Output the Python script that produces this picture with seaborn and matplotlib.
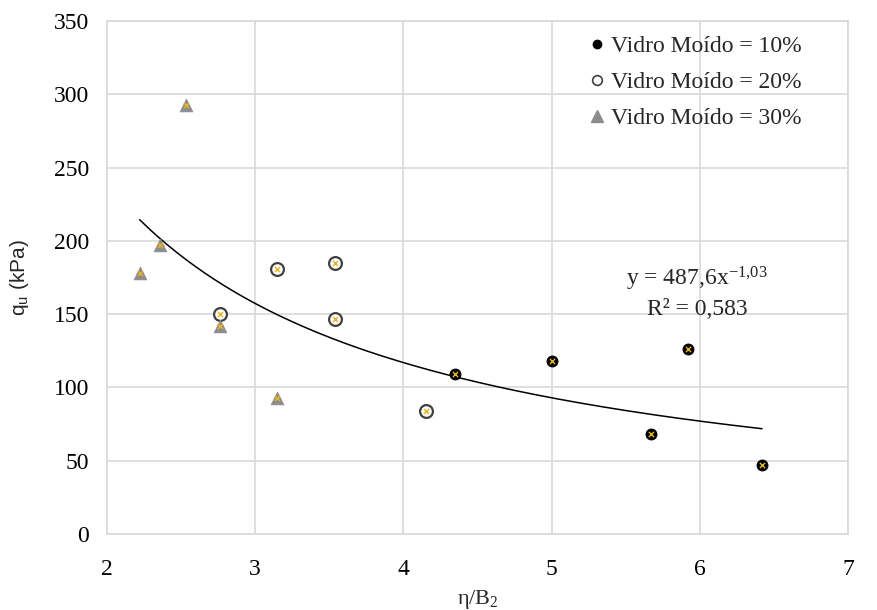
import numpy as np
import pandas as pd
import matplotlib
matplotlib.use("Agg")
import matplotlib.pyplot as plt
import seaborn as sns
from matplotlib.lines import Line2D

# data
x10 = [4.35, 5.00, 5.67, 5.92, 6.42]
y10 = [109, 118, 68, 126, 47]
x20 = [2.76, 3.15, 3.54, 3.54, 4.15]
y20 = [150, 181, 185, 147, 84]
x30 = [2.53, 2.22, 2.36, 2.76, 3.15]
y30 = [293, 178, 197, 142, 93]
labels = ["Vidro Moído = 10%", "Vidro Moído = 20%", "Vidro Moído = 30%"]
fit_a = 487.6
fit_b = -1.03
fit_r2 = "0,583"
fit_range = (2.22, 6.42)
xticks = [2, 3, 4, 5, 6, 7]
yticks = [0, 50, 100, 150, 200, 250, 300, 350]

df = pd.DataFrame({
    "x": x10 + x20 + x30,
    "y": y10 + y20 + y30,
    "g": [labels[0]] * len(x10) + [labels[1]] * len(x20) + [labels[2]] * len(x30),
})

sns.set_theme(style="white")
plt.rcParams["font.family"] = ["Liberation Serif", "DejaVu Serif"]
plt.rcParams["mathtext.fontset"] = "custom"
plt.rcParams["mathtext.rm"] = "Liberation Serif"
plt.rcParams["mathtext.it"] = "Liberation Serif:italic"
plt.rcParams["mathtext.bf"] = "Liberation Serif:bold"

fig = plt.figure(figsize=(8.78, 6.1), dpi=100)
ax = fig.add_axes([0.1219, 0.1246, 0.8439, 0.841])

grid_c = "#d9d9d9"
styles = {
    labels[0]: dict(marker="o", s=60, color="black", edgecolor="black", linewidth=0.8),
    labels[1]: dict(marker="o", s=85, color="white", edgecolor="#404040", linewidth=1.6),
    labels[2]: dict(marker="^", s=85, color="#8c8c8c", edgecolor="#8c8c8c", linewidth=0.5),
}
for lab in labels:
    sub = df[df["g"] == lab]
    sns.scatterplot(data=sub, x="x", y="y", ax=ax, legend=False, zorder=3, **styles[lab])
# small yellow cross inside every marker
sns.scatterplot(data=df, x="x", y="y", ax=ax, legend=False, marker="x", s=14,
                color="#e8b420", linewidth=1.0, zorder=4)

# power trendline from the displayed equation
xf = np.linspace(fit_range[0], fit_range[1], 200)
sns.lineplot(x=xf, y=fit_a * xf ** fit_b, ax=ax, color="black", linewidth=1.1, zorder=2)

ax.set_xlim(2, 7)
ax.set_ylim(0, 350)
ax.set_xticks(xticks)
ax.set_yticks(yticks)
ax.grid(True, color=grid_c, linewidth=1.2)
ax.set_axisbelow(True)
for sp in ax.spines.values():
    sp.set_color(grid_c)
    sp.set_linewidth(1.2)
ax.tick_params(axis="both", length=0, labelsize=17, colors="black")
ax.tick_params(axis="x", pad=18)
ax.tick_params(axis="y", pad=13)

ax.set_xlabel(r"η/B$_\mathregular{2}$", fontsize=16, labelpad=6)
ax.set_ylabel(r"q$_\mathregular{u}$ (kPa)", fontsize=15, labelpad=16,
              family=["Liberation Sans", "DejaVu Sans"])

# legend
handles = [
    Line2D([], [], marker="o", linestyle="", markersize=6, markerfacecolor="black", markeredgecolor="black"),
    Line2D([], [], marker="o", linestyle="", markersize=7, markerfacecolor="white", markeredgecolor="#404040", markeredgewidth=1.2),
    Line2D([], [], marker="^", linestyle="", markersize=8, markerfacecolor="#8c8c8c", markeredgecolor="#8c8c8c"),
]
ax.legend(handles, labels, loc="upper left", bbox_to_anchor=(0.629, 0.99), frameon=False,
          fontsize=17, handletextpad=0.0, labelspacing=0.62, handlelength=1.2,
          borderaxespad=0.0)

ax.text(5.98, 174, r"y = 487,6x$^\mathregular{-1{,}03}$", fontsize=17, ha="center", va="center")
ax.text(5.98, 153, "R² = " + fit_r2, fontsize=17, ha="center", va="center")

fig.savefig("out.png", dpi=100)
